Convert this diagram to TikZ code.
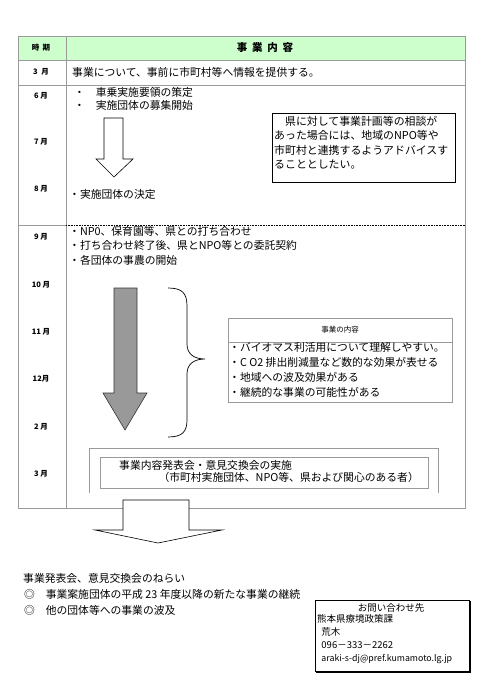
\documentclass[tikz,border=0pt]{standalone}
\usepackage{fontspec}
\setmainfont{Noto Sans CJK JP}
\definecolor{hdr}{HTML}{CCFFCC}
\definecolor{gridc}{HTML}{9A9A9A}
\definecolor{arrowgray}{HTML}{999999}
\begin{document}
\begin{tikzpicture}[x=1pt,y=-1pt,
  grid/.style={draw=gridc, line width=0.8pt},
  txt/.style={anchor=west, inner sep=0pt, font=\fontsize{10.8}{14.5}\selectfont, align=left},
  mon/.style={inner sep=0pt, font=\fontsize{7.5}{9}\selectfont\bfseries},
  blockarrow/.style={draw=black, line width=0.6pt, fill=white, line join=miter},
  box/.style={draw=black, line width=0.9pt},
  gbox/.style={draw=gridc, line width=0.7pt}]
\useasboundingbox (0,0) rectangle (484,685);
\fill[white] (0,0) rectangle (484,685);
% table
\fill[hdr] (18,36) rectangle (465,60);
\draw[grid] (18,36) rectangle (465,508);
\draw[grid] (66,36) -- (66,508);
\draw[grid] (18,60) -- (465,60);
\draw[grid] (18,85) -- (465,85);
\draw[grid] (18,225) -- (66,225);
\draw[densely dotted, line width=0.6pt] (66,225) -- (465,225);
% header
\node[mon] (h1) at (41,48) {時\ \ 期};
\node[inner sep=0pt, font=\fontsize{10.5}{12}\selectfont\bfseries] (h2) at (265,48) {事\ \ 業\ \ 内\ \ 容};
% months
\node[mon] (m3a) at (41,72) {3\ \ 月};
\node[mon] (m6) at (41,96) {6 月};
\node[mon] (m7) at (41,142) {7 月};
\node[mon] (m8) at (41,189) {8 月};
\node[mon] (m9) at (41,237) {9 月};
\node[mon] (m10) at (41,285) {10 月};
\node[mon] (m11) at (41,332) {11 月};
\node[mon] (m12) at (41,379) {12月};
\node[mon] (m2) at (41,427) {2 月};
\node[mon] (m3b) at (41,474) {3 月};
% row 3
\node[txt] (r3) at (72,72) {事業について、事前に市町村等へ情報を提供する。};
% row 6-8
\node[txt] (r6a) at (74,92) {・\quad 車乗実施要領の策定};
\node[txt] (r6b) at (74,105) {・\quad 実施団体の募集開始};
\draw[blockarrow] (104,118) -- (123,118) -- (123,159) -- (133,159) -- (114,177) -- (96,159) -- (104,159) -- cycle;
\node[txt] (r8) at (69,194) {・実施団体の決定};
\draw[box] (272,113) rectangle (455,182);
\node[txt, anchor=north west, font=\fontsize{10.9}{14.5}\selectfont] (adv) at (274,116) {\quad 県に対して事業計画等の相談が\\あった場合には、地域のNPO等や\\市町村と連携するようアドバイスす\\ることとしたい。};
% row 9
\node[txt, anchor=north west] (r9) at (69,226) {・NP0、保育園等、県との打ち合わせ\\・打ち合わせ終了後、県とNPO等との委託契約\\・各団体の事農の開始};
\draw[draw=black!80, line width=0.6pt, fill=arrowgray] (114,288) -- (137,288) -- (137,393) -- (147,393) -- (125,430) -- (103,393) -- (114,393) -- cycle;
\draw[line width=0.7pt] (168,288) .. controls (182,288) and (187,293) .. (187,306) -- (187,344)
  .. controls (187,354) and (194,359) .. (205,359)
  .. controls (194,359) and (187,364) .. (187,374) -- (187,420)
  .. controls (187,432) and (182,437) .. (168,437);
\draw[gbox] (228,318) rectangle (452,402);
\draw[gbox] (228,342) -- (452,342);
\node[inner sep=0pt, font=\fontsize{7.5}{9}\selectfont] (cont) at (340,330) {事業の内容};
\node[txt, anchor=north west, font=\fontsize{10.8}{15}\selectfont] (items) at (229,342) {・バイオマス利活用について理解しやすい。\\・C O2 排出削減量など数的な効果が表せる\\・地域への波及効果がある\\・継続的な事業の可能性がある};
% presentation
\draw[gbox] (89,493) -- (89,448) -- (438,448) -- (438,493);
\draw[gbox] (100,457) rectangle (428,488);
\node[txt] (p1) at (119,465) {事業内容発表会・意見交換会の実施};
\node[txt, anchor=east] (p2) at (419,477) {（市町村実施団体、NPO等、県および関心のある者）};
% bottom arrow
\draw[blockarrow] (123,500) -- (189,500) -- (189,530) -- (222,530) -- (158,543) -- (95,530) -- (123,530) -- cycle;
% bottom text
\node[txt] (b1) at (23,578) {事業発表会、意見交換会のねらい};
\node[txt] (b2) at (24,594) {◎\quad 事業案施団体の平成 23 年度以降の新たな事業の継続};
\node[txt] (b3) at (24,610) {◎\quad 他の団体等への事業の波及};
% contact
\draw[box] (315,600) rectangle (469,671);
\draw[line width=0.9pt] (316,672) -- (470,672) -- (470,601);
\node[inner sep=0pt, font=\fontsize{9.5}{10}\selectfont] (c0) at (391,608) {お問い合わせ先};
\node[txt, anchor=north west, font=\fontsize{9.5}{13}\selectfont] (c1) at (317,614) {熊本県療境政策課\\\ \ 荒木\\\ \ 096－333－2262\\\ \ {\fontsize{8.8}{9}\selectfont araki-s-dj@pref.kumamoto.lg.jp}};
\end{tikzpicture}
\end{document}
